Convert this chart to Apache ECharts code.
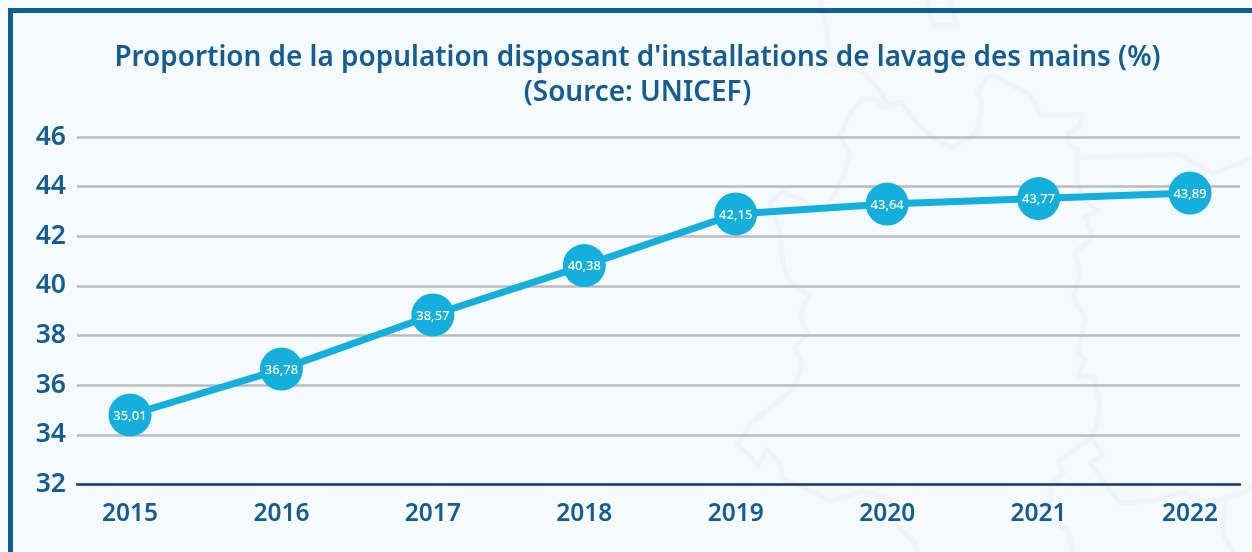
<!DOCTYPE html>
<html><head><meta charset="utf-8">
<style>html,body{margin:0;padding:0;background:#f5faff}#c{width:1252px;height:552px}</style>
<script src="https://cdn.jsdelivr.net/npm/echarts@6/dist/echarts.min.js"></script>
</head><body><div id="c"></div>
<script>
const years = [2015,2016,2017,2018,2019,2020,2021,2022];
// Positions; printed labels differ slightly in the original.
const plotted = [34.8,36.65,38.83,40.82,42.9,43.3,43.52,43.74];
const printed = ['35,01','36,78','38,57','40,38','42,15','43,64','43,77','43,89'];
const yTicks = [32,34,36,38,40,42,44,46];
const titleText = "Proportion de la population disposant d'installations de lavage des mains (%)\n(Source: UNICEF)";
// Decorative faint map outline in the page background (not data).
const outlineA = [[820,0],[827,30],[830,63],[863,72],[877,87],[887,103]];
const outlineB = [[987,77],[977,93],[982,103],[977,133],[960,143],[950,147],[937,140],[920,127],[907,110],[902,102],[883,107],[877,100],[863,98],[850,113],[840,137],[850,153],[843,177],[833,197],[823,213],[803,200],[782,192],[770,203],[780,233],[783,263],[788,279],[808,296],[800,316],[808,334],[795,346],[802,366],[793,389],[775,404],[750,424],[737,446],[748,453],[758,466],[767,449],[780,463],[783,479],[807,489],[830,501],[863,491],[890,499],[900,529],[915,543],[917,552]];
const outlineC = [[987,77],[993,75],[1030,95],[1040,115],[1082,115],[1080,127],[1068,133],[1068,143],[1078,150],[1077,180],[1083,200],[1098,210],[1085,217],[1093,237],[1075,253],[1080,277],[1073,296],[1085,318],[1078,353],[1085,359],[1078,376],[1093,376],[1100,404],[1097,426],[1090,439],[1058,461],[1063,473],[1050,486],[1050,523],[1067,529],[1073,552]];
const outlineD = [[1093,439],[1103,456],[1090,463],[1120,503],[1153,501],[1182,493],[1210,503],[1243,493],[1252,485]];
const outlineE = [[1225,503],[1223,533],[1233,552]];
const outlineF = [[1078,157],[1180,155],[1213,173],[1243,162],[1252,158]];
const outlineG = [[927,0],[933,25],[957,25],[950,0]];
const outlines = [outlineA,outlineB,outlineC,outlineD,outlineE,outlineF,outlineG];
const blue='#155c93', cyan='#14afdc', font='"Noto Sans"';
const chart = echarts.init(document.getElementById('c'),null,{renderer:'canvas'});
chart.setOption({
  backgroundColor:'#f5faff', animation:false,
  graphic:[
    ...outlines.map(o=>({type:'polyline',silent:true,z:-2,shape:{points:o},style:{fill:'none',stroke:'#f0f4f8',lineWidth:5,lineJoin:'round',lineCap:'round'}})),
    {type:'rect',silent:true,z:-1,shape:{x:10.5,y:10.5,width:1300,height:600},style:{fill:'none',stroke:'#115e96',lineWidth:5}}
  ],
  title:{text:titleText,left:632.5,top:36,textAlign:'center',textStyle:{color:blue,fontFamily:font,fontWeight:600,fontSize:27.9,lineHeight:35}},
  grid:{left:77,right:12,top:137,bottom:67.5},
  xAxis:{type:'value',min:2014.65,max:2022.33,splitLine:{show:false},axisTick:{show:false},
    axisLine:{show:true,onZero:false,lineStyle:{color:'#1c3b70',width:2.5}},
    axisLabel:{customValues:years,formatter:v=>String(v),margin:17,color:blue,fontFamily:font,fontWeight:600,fontSize:24.5}},
  yAxis:{type:'value',min:32,max:46,interval:2,axisLine:{show:false},axisTick:{show:false},
    splitLine:{lineStyle:{color:'#bbbbbb',width:2.5}},
    axisLabel:{margin:11,color:blue,fontFamily:font,fontWeight:600,fontSize:26.5,padding:[2,0,0,0]}},
  series:[{type:'line',data:years.map((y,i)=>[y,plotted[i]]),symbol:'circle',symbolSize:43,
    lineStyle:{color:cyan,width:7},itemStyle:{color:cyan},
    label:{show:true,position:'inside',offset:[0,1],formatter:p=>printed[p.dataIndex],color:'#fff',fontFamily:font,fontWeight:500,fontSize:13}}]
});
</script></body></html>
